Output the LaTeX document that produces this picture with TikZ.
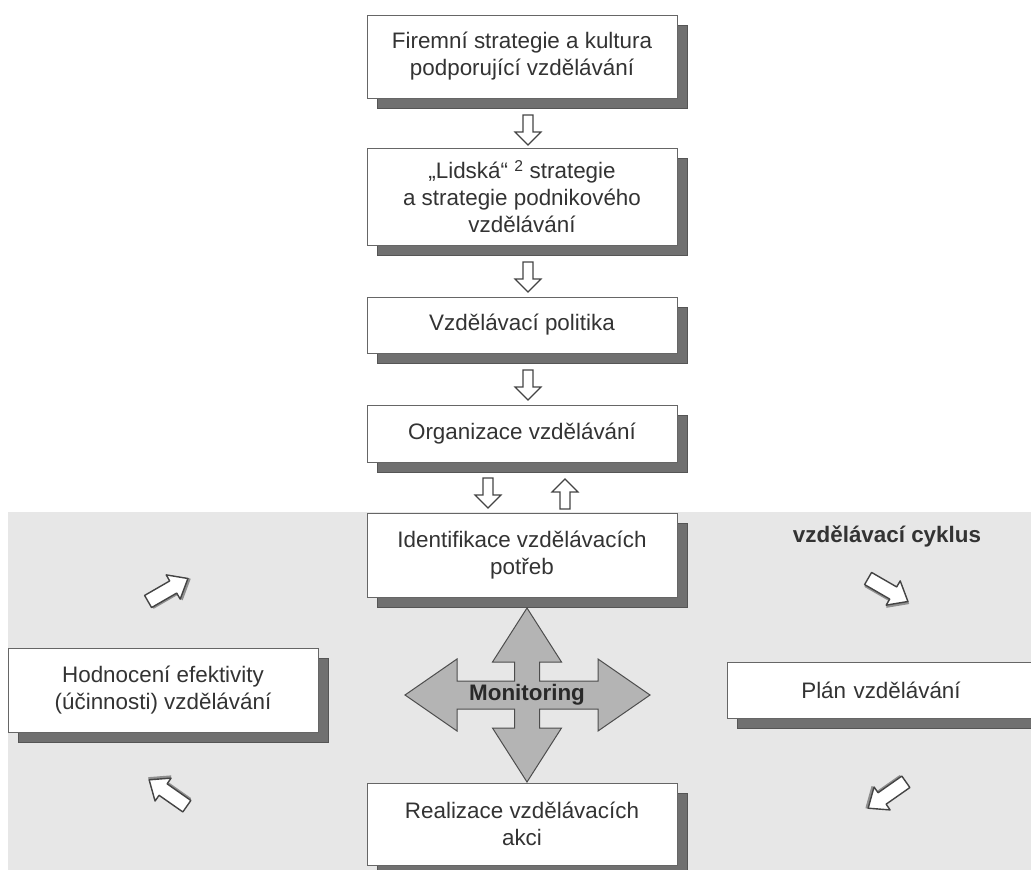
\documentclass[tikz,border=0pt]{standalone}
\usepackage{fontspec}
\setmainfont{Liberation Sans}
\usetikzlibrary{shadows,calc}
\definecolor{txt}{HTML}{333333}
\definecolor{boxline}{HTML}{666666}
\definecolor{shadowc}{HTML}{707070}
\definecolor{shadowline}{HTML}{555555}
\definecolor{bggray}{HTML}{E7E7E7}
\definecolor{monfill}{HTML}{B4B4B4}
\definecolor{monline}{HTML}{4D4D4D}
\definecolor{arrline}{HTML}{444444}
\tikzset{
  box/.style={draw=boxline, line width=1pt, fill=white, align=center, text=txt,
    font=\fontsize{22.4}{27}\selectfont, inner sep=0pt,
    minimum width=310pt,
    copy shadow={shadow xshift=10pt, shadow yshift=-10pt, fill=shadowc, draw=shadowline, line width=1pt}},
  vblk/.pic={\draw[arrline, fill=white, line width=1.1pt, line join=miter]
      (-15,-5) -- (2,-5) -- (2,-13) -- (15,0) -- (2,13) -- (2,5) -- (-15,5) -- cycle;},
  dblk/.pic={\draw[arrline!60, fill=arrline!60, line width=1.2pt, line join=round, shift={(1.5,1.5)}]
      (-23,-7) -- (6,-7) -- (6,-14) -- (23,0) -- (6,14) -- (6,7) -- (-23,7) -- cycle;
    \draw[arrline, fill=white, line width=1.4pt, line join=round]
      (-23,-7) -- (6,-7) -- (6,-14) -- (23,0) -- (6,14) -- (6,7) -- (-23,7) -- cycle;}
}
\begin{document}
\begin{tikzpicture}[x=1pt,y=-1pt]
\useasboundingbox (0,0) rectangle (1031,870);
\begin{scope}
\clip (0,0) rectangle (1031,870);
% gray cycle background
\fill[bggray] (8,512) rectangle (1031,870);

% boxes
\node[box, minimum height=83pt] (b1) at (522,56.5) {Firemní strategie a kultura\\podporující vzdělávání};
\node[box, minimum height=97pt] (b2) at (522,196.5) {„Lidská“ \textsuperscript{2} strategie\\a strategie podnikového\\vzdělávání};
\node[box, minimum height=56pt] (b3) at (522,325) {Vzdělávací politika};
\node[box, minimum height=57pt] (b4) at (522,433.5) {Organizace vzdělávání};
\node[box, minimum height=84pt] (b5) at (522,555) {Identifikace vzdělávacích\\potřeb};
\node[box, minimum height=82pt] (b6) at (522,824) {Realizace vzdělávacích\\akci};
\node[box, minimum height=84pt] (b7) at (163,690) {Hodnocení efektivity\\(účinnosti) vzdělávání};
\node[box, minimum height=56pt, text width=310pt] (b8) at (882,690) {\hspace*{-2pt}Plán vzdělávání};

% vertical block arrows
\pic[rotate=-90] at (528,130) {vblk};
\pic[rotate=-90] at (528,277) {vblk};
\pic[rotate=-90] at (528,385) {vblk};
\pic[rotate=-90] at (488,493) {vblk};
\pic[rotate=90] at (565,494) {vblk};

% diagonal block arrows of the cycle
\pic[rotate=30] at (168,590) {dblk};
\pic[rotate=-30] at (888,590) {dblk};
\pic[rotate=-145] at (887,795) {dblk};
\pic[rotate=145] at (168,793) {dblk};

% cycle label
\node[text=txt, font=\fontsize{22.4}{27}\selectfont\bfseries] (cyc) at (887,536) {vzdělávací cyklus};

% monitoring cross
\draw[monline, fill=monfill, line width=1pt, line join=miter, shift={(527,695)}]
  (0,-87) -- (34.5,-33) -- (12.5,-33) -- (12.5,-14) -- (71,-14) -- (71,-36) -- (123,0)
  -- (71,36) -- (71,14) -- (12.5,14) -- (12.5,33) -- (34.5,33) -- (0,87)
  -- (-34.5,33) -- (-12.5,33) -- (-12.5,14) -- (-70,14) -- (-70,36) -- (-122,0)
  -- (-70,-36) -- (-70,-14) -- (-12.5,-14) -- (-12.5,-33) -- (-34.5,-33) -- cycle;
\node[text=txt!80!black, font=\fontsize{22.4}{27}\selectfont\bfseries] (mon) at (527,695) {Monitoring};
\end{scope}
\end{tikzpicture}
\end{document}
